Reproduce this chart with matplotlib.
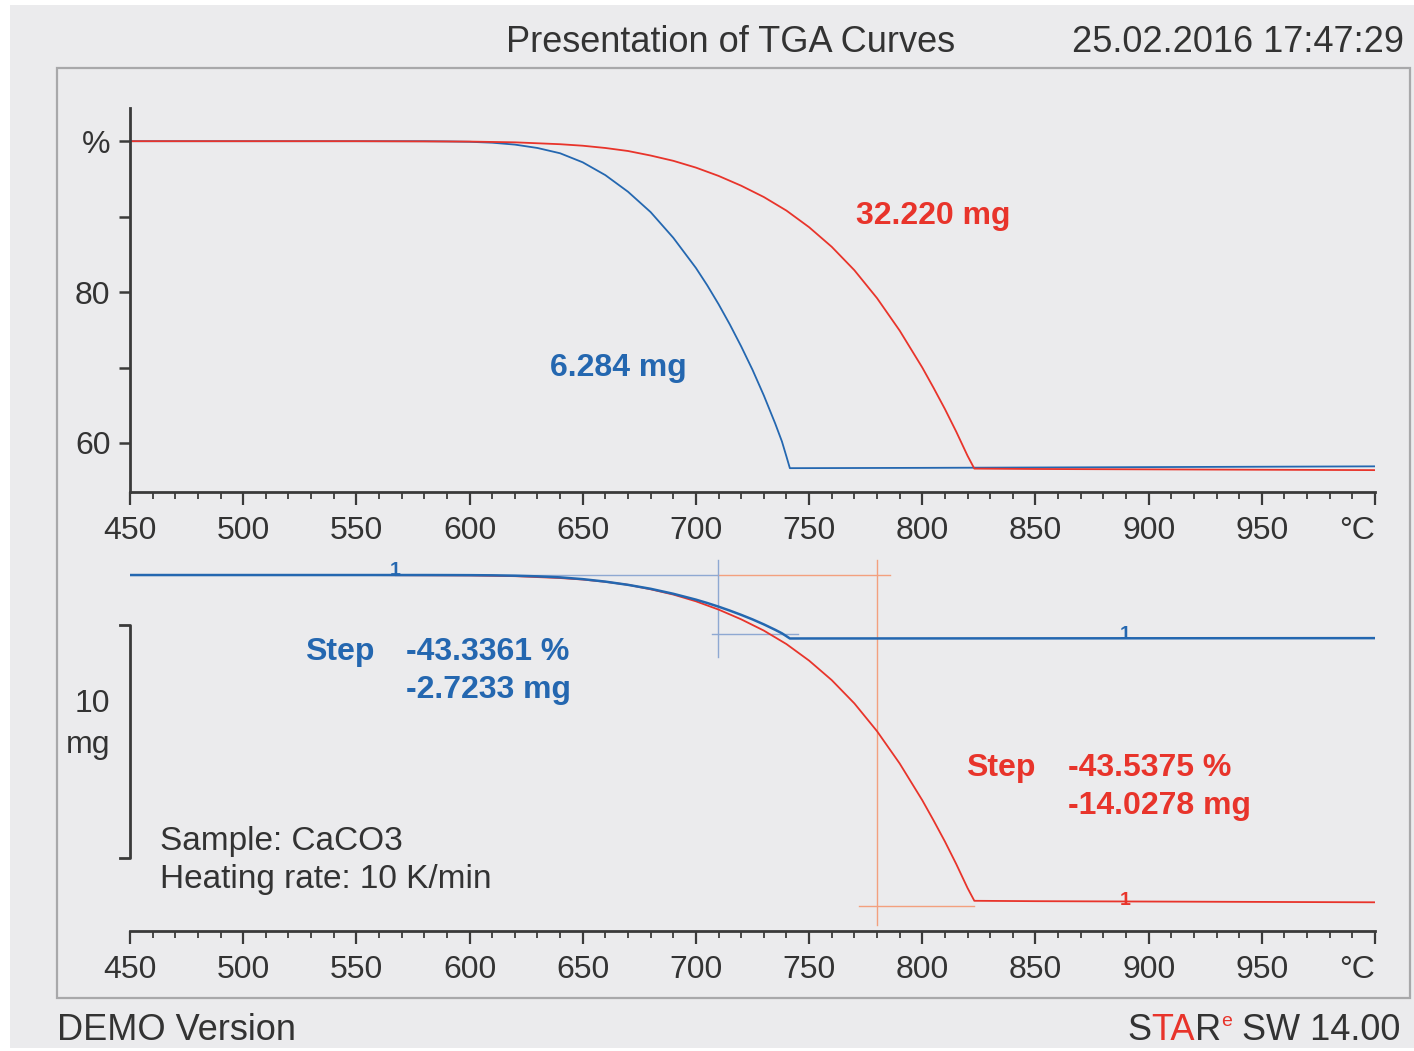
import matplotlib
matplotlib.use("Agg")
import matplotlib.pyplot as plt
import numpy as np
from matplotlib.patches import Rectangle
from matplotlib.offsetbox import TextArea, HPacker, AnnotationBbox

plt.rcParams['font.family'] = ['Liberation Sans', 'DejaVu Sans']

# ---------------- data ----------------
blue_T = [450, 500, 550, 580, 590, 600, 610, 620, 630, 640, 650, 660, 670, 680,
          690, 700, 705, 710, 715, 720, 725, 730, 735, 738, 740, 741.5, 800, 900, 1000]
blue_pct = [100.0, 100.0, 100.0, 100.0, 99.97, 99.92, 99.8, 99.55, 99.1, 98.4,
            97.2, 95.5, 93.3, 90.6, 87.2, 83.2, 80.9, 78.4, 75.7, 72.8, 69.7,
            66.3, 62.6, 60.2, 58.2, 56.66, 56.7, 56.8, 56.9]
red_T = [450, 550, 600, 620, 640, 650, 660, 670, 680, 690, 700, 710, 720, 730,
         740, 750, 760, 770, 780, 790, 800, 805, 810, 815, 820, 823, 850, 900, 1000]
red_pct = [100.0, 100.0, 99.95, 99.85, 99.6, 99.4, 99.1, 98.7, 98.1, 97.4, 96.5,
           95.4, 94.1, 92.6, 90.8, 88.6, 86.0, 82.9, 79.2, 74.9, 70.0, 67.3,
           64.5, 61.5, 58.3, 56.6, 56.55, 56.5, 56.4]
blue_mass0 = 6.284
red_mass0 = 32.220

x_major = [450, 500, 550, 600, 650, 700, 750, 800, 850, 900, 950, 1000]
x_labels = ['450', '500', '550', '600', '650', '700', '750', '800', '850', '900', '950', '']
y_major = [60, 80, 100]
y_labels = ['60', '80', '%']
y_minor = [70, 90]

blue_step = ["Step", "-43.3361 %", "-2.7233 mg"]
red_step = ["Step", "-43.5375 %", "-14.0278 mg"]

# ---------------- style ----------------
BG = '#ebebed'
DARK = '#333333'
RED = '#e8342b'
BLUE = '#2467b0'
LRED = '#f3a07e'
LBLUE = '#8ea8d2'
TICK_FS = 23
ANN_FS = 23

W, H = 1414, 1051
fig = plt.figure(figsize=(W / 100, H / 100), dpi=100, facecolor=BG)

def fx(px):
    return px / W

def fy(py):
    return 1 - py / H

# white margins of the scan
fig.patches.append(Rectangle((0, 0), fx(10), 1, transform=fig.transFigure,
                             color='white', lw=0))
fig.patches.append(Rectangle((0, fy(5)), 1, 1 - fy(5), transform=fig.transFigure,
                             color='white', lw=0))
fig.patches.append(Rectangle((0, 0), 1, 1 - fy(3), transform=fig.transFigure,
                             color='white', lw=0))

# outer frame
fig.patches.append(Rectangle((fx(57), fy(998)), fx(1410) - fx(57), fy(68) - fy(998),
                             transform=fig.transFigure, fill=False,
                             edgecolor='#a8a8aa', lw=1.6))

left, right = fx(130), fx(1375)
ax1 = fig.add_axes([left, fy(492), right - left, fy(108) - fy(492)])
ax2 = fig.add_axes([left, fy(931), right - left, fy(555) - fy(931)])

for ax in (ax1, ax2):
    ax.set_facecolor('none')
    ax.set_xlim(450, 1000)
    for s in ('top', 'right'):
        ax.spines[s].set_visible(False)
    ax.spines['bottom'].set_color('#3a3a3a')
    ax.spines['bottom'].set_linewidth(2.0)
    ax.set_xticks(x_major)
    ax.set_xticklabels(x_labels)
    ax.set_xticks(np.arange(450, 1001, 10), minor=True)
    ax.tick_params(axis='x', which='major', direction='out', length=9, width=1.6,
                   color='#3a3a3a', labelsize=TICK_FS, labelcolor=DARK, pad=8)
    ax.tick_params(axis='x', which='minor', direction='out', length=5, width=1.3,
                   color='#3a3a3a')
    ax.annotate('°C', xy=(1000, 0), xycoords=ax.get_xaxis_transform(),
                xytext=(0, -17), textcoords='offset points', ha='right',
                va='top', fontsize=TICK_FS, color=DARK)

# top axes
ax1.set_ylim(53.5, 104.4)
ax1.spines['left'].set_color('#3a3a3a')
ax1.spines['left'].set_linewidth(2.0)
ax1.set_yticks(y_major)
ax1.set_yticklabels(y_labels)
ax1.set_yticks(y_minor, minor=True)
ax1.tick_params(axis='y', which='both', direction='out', length=8, width=1.8,
                color='#3a3a3a', labelsize=TICK_FS, labelcolor=DARK, pad=6)
ax1.plot(blue_T, blue_pct, color=BLUE, lw=1.3)
ax1.plot(red_T, red_pct, color=RED, lw=1.3)
ax1.text(770.7, 90.1, "32.220 mg", color=RED, fontsize=ANN_FS, fontweight='bold',
         ha='left', va='center')
ax1.text(635.5, 69.9, "6.284 mg", color=BLUE, fontsize=ANN_FS, fontweight='bold',
         ha='left', va='center')

# bottom axes (mass change in mg)
ax2.set_ylim(-15.28, 0.86)
ax2.spines['left'].set_visible(False)
ax2.set_yticks([])

blue_dm = (np.array(blue_pct) - 100) / 100 * blue_mass0
red_dm = (np.array(red_pct) - 100) / 100 * red_mass0

# step evaluation construction lines
ax2.plot([567, 709.7], [0, 0], color=LBLUE, lw=1.0)
ax2.plot([709.7, 785.7], [0, 0], color=LRED, lw=1.0)
ax2.plot([709.7, 709.7], [0.64, -3.52], color=LBLUE, lw=1.0)
ax2.plot([707, 745], [-2.53, -2.53], color=LBLUE, lw=1.0)
ax2.plot([780, 780], [0.64, -15.02], color=LRED, lw=1.0)
ax2.plot([772, 823], [-14.2, -14.2], color=LRED, lw=1.0)

ax2.plot(red_T, red_dm, color=RED, lw=1.3)
ax2.plot(blue_T, blue_dm, color=BLUE, lw=1.8)

# step limit markers
ax2.text(567, 0.2, '1', color=BLUE, fontsize=14, fontweight='bold', ha='center', va='center')
ax2.text(889.5, -2.55, '1', color=BLUE, fontsize=14, fontweight='bold', ha='center', va='center')
ax2.text(889.5, -13.95, '1', color=RED, fontsize=14, fontweight='bold', ha='center', va='center')

# scale bar (10 mg)
ax2.plot([445.6, 450, 450, 445.6], [-2.15, -2.15, -12.15, -12.15], color='#3a3a3a',
         lw=2.0, clip_on=False)
ax2.text(441.2, -5.54, '10', fontsize=TICK_FS, color=DARK, ha='right', va='center')
ax2.text(441.2, -7.30, 'mg', fontsize=TICK_FS, color=DARK, ha='right', va='center')

# step texts
ax2.text(527.3, -3.30, blue_step[0], color=BLUE, fontsize=ANN_FS, fontweight='bold', va='center')
ax2.text(571.9, -3.30, blue_step[1], color=BLUE, fontsize=ANN_FS, fontweight='bold', va='center')
ax2.text(571.9, -4.94, blue_step[2], color=BLUE, fontsize=ANN_FS, fontweight='bold', va='center')
ax2.text(819.3, -8.28, red_step[0], color=RED, fontsize=ANN_FS, fontweight='bold', va='center')
ax2.text(864.3, -8.28, red_step[1], color=RED, fontsize=ANN_FS, fontweight='bold', va='center')
ax2.text(864.3, -9.91, red_step[2], color=RED, fontsize=ANN_FS, fontweight='bold', va='center')

ax2.text(463.3, -11.42, 'Sample: CaCO3', color=DARK, fontsize=24, va='center')
ax2.text(463.3, -13.09, 'Heating rate: 10 K/min', color=DARK, fontsize=24, va='center')

# header / footer
fig.text(fx(731), fy(42), 'Presentation of TGA Curves', ha='center', va='center',
         fontsize=26, color=DARK)
fig.text(fx(1072), fy(42), '25.02.2016 17:47:29', ha='left', va='center',
         fontsize=26, color=DARK)
fig.text(fx(57), fy(1030), 'DEMO Version', ha='left', va='center', fontsize=26,
         color=DARK)

parts = [TextArea('S', textprops=dict(color=DARK, fontsize=26)),
         TextArea('TA', textprops=dict(color=RED, fontsize=26)),
         TextArea('R', textprops=dict(color=DARK, fontsize=26)),
         TextArea('e', textprops=dict(color=RED, fontsize=14)),
         TextArea(' SW 14.00', textprops=dict(color=DARK, fontsize=26))]
pack = HPacker(children=parts, align='top', pad=0, sep=0)
ab = AnnotationBbox(pack, (fx(1400), fy(1030)), xycoords='figure fraction',
                    box_alignment=(1, 0.5), frameon=False, pad=0)
fig.add_artist(ab)

fig.savefig('out.png', dpi=100, facecolor=BG)
